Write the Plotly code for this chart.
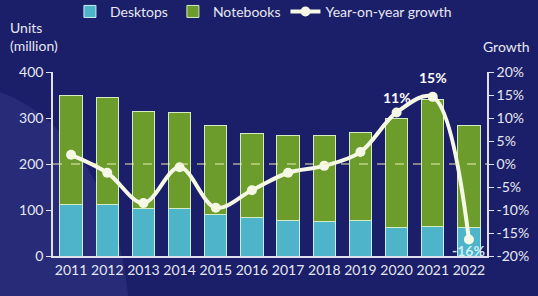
import plotly.graph_objects as go

years = [2011, 2012, 2013, 2014, 2015, 2016, 2017, 2018, 2019, 2020, 2021, 2022]
desktops = [112, 111, 104, 104, 91, 83, 77, 76, 78, 62, 65, 62]
totals = [350, 345, 314, 312, 283, 267, 262, 261, 268, 298, 341, 283]
notebooks = [t - d for t, d in zip(totals, desktops)]
growth = [2.0, -1.9, -8.5, -0.7, -9.5, -5.7, -1.9, -0.4, 2.6, 11.2, 14.6, -16.4]
labelled = {2020: "11%", 2021: "15%", 2022: "-16%"}
left_ticks = [0, 100, 200, 300, 400]
right_ticks = [-20, -15, -10, -5, 0, 5, 10, 15, 20]

FONT = "Lato"
TXT = "#e6e8f2"
BG = "#1b1e68"

fig = go.Figure()
fig.add_trace(go.Bar(x=years, y=desktops, name="Desktops",
                     marker=dict(color="#4db4c9", line=dict(color="#c8f0f4", width=1))))
fig.add_trace(go.Bar(x=years, y=notebooks, name="Notebooks",
                     marker=dict(color="#6b9c2c", line=dict(color="#d6ecc0", width=1))))
fig.add_trace(go.Scatter(x=years, y=growth, name="Year-on-year growth", yaxis="y2",
                         mode="lines+markers",
                         line=dict(color="#f6f8e6", width=4, shape="spline", smoothing=1.0),
                         marker=dict(color="#f6f8e6", size=10)))

offsets = {2020: 15, 2021: 19, 2022: -11}
for i, y in enumerate(years):
    if y in labelled:
        fig.add_annotation(x=y, y=growth[i], yref="y2", text="<b>%s</b>" % labelled[y],
                           showarrow=False, yshift=offsets[y],
                           font=dict(family=FONT, size=14,
                                     color="#cdeef2" if y == 2022 else "#ffffff"))

# soft lighter glow in the lower-left of the background
fig.add_shape(type="circle", xref="paper", yref="paper", x0=-0.606, x1=0.177, y0=-1.734, y1=0.929,
              fillcolor="rgba(120,135,230,0.13)", line=dict(width=0), layer="below")

fig.add_shape(type="line", xref="paper", x0=0, x1=1, yref="y2", y0=0, y1=0,
              line=dict(color="#eeeeb0", width=1, dash="dash"), layer="above")

fig.add_annotation(xref="paper", yref="paper", x=-0.104, y=1.193, xanchor="left", yanchor="middle",
                   text="Units<br>(million)", align="left", showarrow=False,
                   font=dict(family=FONT, size=14, color=TXT))
fig.add_annotation(xref="paper", yref="paper", x=1.044, y=1.136, xanchor="center", yanchor="middle",
                   text="Growth", showarrow=False,
                   font=dict(family=FONT, size=14, color=TXT))

fig.update_layout(
    width=538, height=296,
    margin=dict(l=53, r=51, t=72, b=40, autoexpand=False),
    paper_bgcolor=BG, plot_bgcolor="rgba(0,0,0,0)",
    barmode="stack", bargap=0.38,
    font=dict(family=FONT, color=TXT, size=13),
    showlegend=True,
    legend=dict(orientation="h", x=0.13, xref="container", y=0.96, yref="container",
                yanchor="middle", xanchor="left", font=dict(family=FONT, size=14, color=TXT),
                bgcolor="rgba(0,0,0,0)", traceorder="normal"),
    xaxis=dict(range=[2010.5, 2022.5], tickvals=years, showline=True, linecolor="#dfe2ee",
               linewidth=1.5, ticks="", tickfont=dict(family=FONT, size=14, color=TXT),
               showgrid=False, zeroline=False),
    yaxis=dict(range=[0, 400], tickvals=left_ticks, showgrid=False, zeroline=False,
               showline=True, linecolor="#dfe2ee", linewidth=1.5, ticks="outside",
               ticklen=5, tickcolor="#dfe2ee",
               tickfont=dict(family=FONT, size=14, color=TXT)),
    yaxis2=dict(range=[-20, 20], tickvals=right_ticks,
                ticktext=["%d%%" % v for v in right_ticks],
                overlaying="y", side="right", showgrid=False, zeroline=False,
                showline=True, linecolor="#dfe2ee", linewidth=1.5, ticks="outside",
                ticklen=5, tickcolor="#dfe2ee",
                tickfont=dict(family=FONT, size=14, color=TXT)),
)

fig.write_html("out.html")
